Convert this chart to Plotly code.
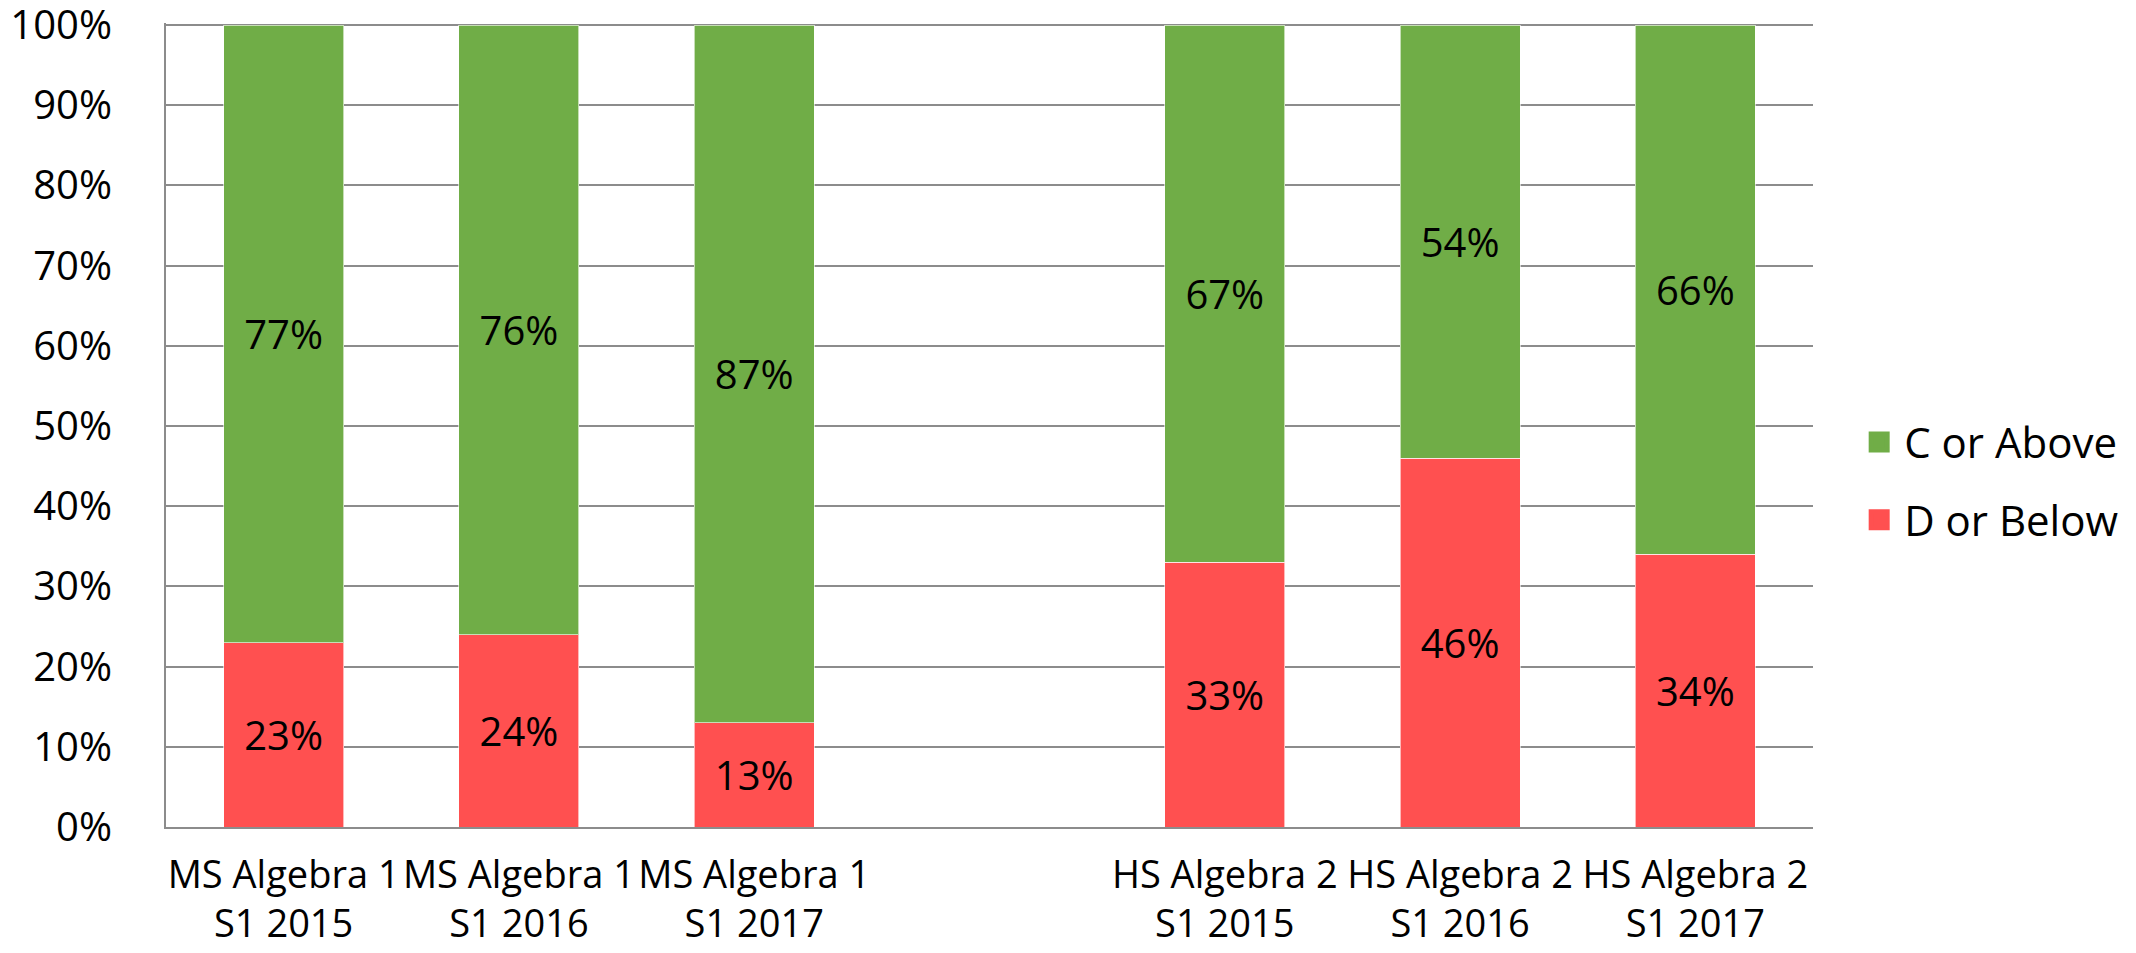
import plotly.graph_objects as go

# ---- data ----
categories = [
    "MS Algebra 1<br>S1 2015",
    "MS Algebra 1<br>S1 2016",
    "MS Algebra 1<br>S1 2017",
    " ",
    "HS Algebra 2<br>S1 2015",
    "HS Algebra 2<br>S1 2016",
    "HS Algebra 2<br>S1 2017",
]
d_or_below = [23, 24, 13, None, 33, 46, 34]
c_or_above = [77, 76, 87, None, 67, 54, 66]
series_names = ["C or Above", "D or Below"]
y_ticks = list(range(0, 101, 10))
y_tick_labels = [f"{v}%" for v in y_ticks]


def pct_labels(values):
    return ["" if v is None else f"{v}%" for v in values]


GREEN = "#70AD47"
RED = "#FF5050"
GRID = "#8C8C8C"
FONT = "Open Sans"

fig = go.Figure()

for vals, name, col in [(d_or_below, series_names[1], RED),
                        (c_or_above, series_names[0], GREEN)]:
    fig.add_trace(go.Bar(
        x=categories, y=vals, name=name,
        marker=dict(color=col, line=dict(color="rgba(255,255,255,0.6)", width=1)),
        text=pct_labels(vals), texttemplate="%{text}",
        textposition="inside", insidetextanchor="middle",
        textangle=0, constraintext="none",
        textfont=dict(family=FONT, size=40, color="black"),
        showlegend=False, hoverinfo="x+text",
    ))

# legend entries (larger square symbols)
for name, col in [(series_names[0], GREEN), (series_names[1], RED)]:
    fig.add_trace(go.Scatter(
        x=[None], y=[None], mode="markers", name=name, legendgroup=name,
        marker=dict(symbol="square", size=16, color=col, line=dict(color=col, width=5)),
        showlegend=True,
    ))

fig.update_layout(
    width=2136, height=953,
    margin=dict(l=166, r=323, t=23, b=126, pad=0, autoexpand=False),
    barmode="stack", bargap=0.49,
    paper_bgcolor="white", plot_bgcolor="rgba(0,0,0,0)",
    font=dict(family=FONT, size=40, color="black"),
    legend=dict(
        x=1.025, y=0.43, xanchor="left", yanchor="middle",
        font=dict(family=FONT, size=42, color="black"),
        traceorder="grouped", tracegroupgap=20, itemwidth=40,
        bgcolor="rgba(0,0,0,0)",
    ),
)

fig.update_xaxes(
    type="category", categoryorder="array", categoryarray=categories,
    showline=True, linecolor=GRID, linewidth=2, automargin=False,
    showgrid=False, ticks="outside", ticklen=13, tickcolor="rgba(0,0,0,0)",
    tickfont=dict(family=FONT, size=38, color="black"),
    tickangle=0, fixedrange=True,
)
fig.update_yaxes(
    range=[0, 100.25], tickvals=y_ticks, ticktext=y_tick_labels,
    showline=True, linecolor=GRID, linewidth=2, automargin=False,
    showgrid=True, gridcolor=GRID, gridwidth=2,
    zeroline=False, ticks="outside", ticklen=44, tickcolor="rgba(0,0,0,0)",
    ticklabeloverflow="allow",
    tickfont=dict(family=FONT, size=40, color="black"),
    fixedrange=True,
)

fig.write_html("out.html", config={"displayModeBar": False})

# remove the browser's default page margin so the figure sits at (0, 0)
with open("out.html", "r", encoding="utf-8") as f:
    html = f.read()
html = html.replace(
    "<head>",
    "<head><style>html,body{margin:0;padding:0;overflow:hidden;}</style>",
    1,
)
with open("out.html", "w", encoding="utf-8") as f:
    f.write(html)
